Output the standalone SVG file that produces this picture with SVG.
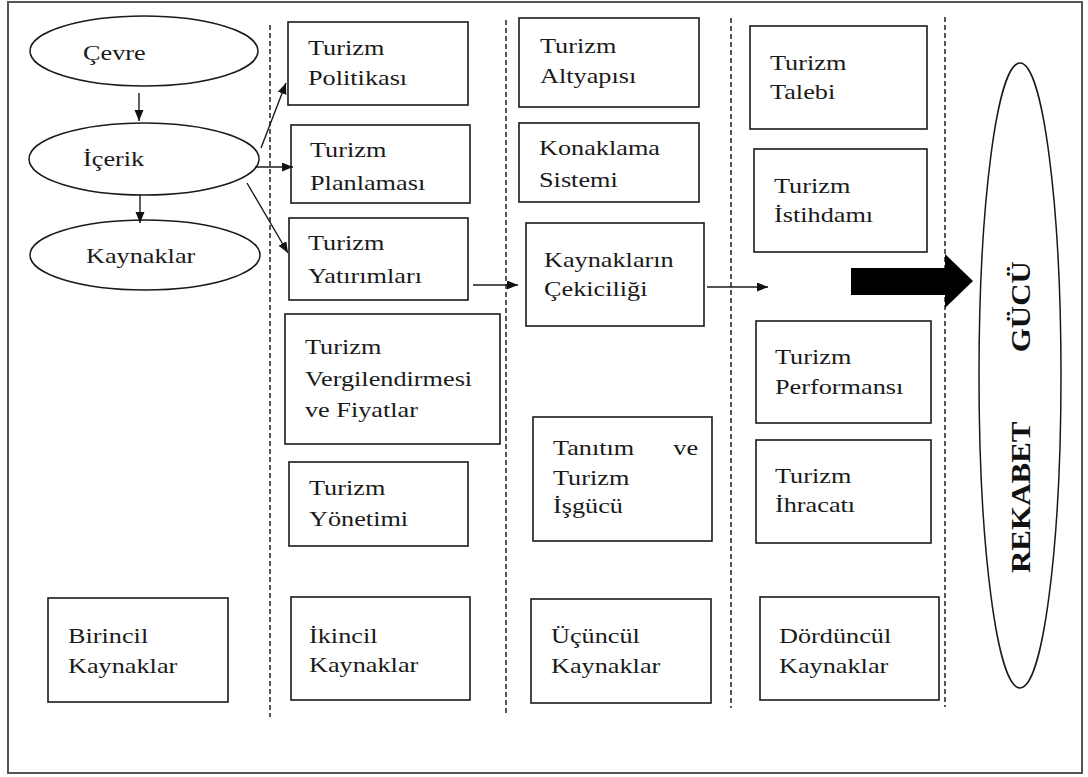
<svg xmlns="http://www.w3.org/2000/svg" width="1088" height="777" viewBox="0 0 1088 777">
<style>
  .bx { fill: #fff; stroke: #1a1a1a; stroke-width: 1.6; }
  .el { fill: #fff; stroke: #1a1a1a; stroke-width: 1.5; }
  .t { font-family: "Liberation Serif", "Times New Roman", serif; font-size: 21px; fill: #1a1a1a; }
  .rt { font-family: "Liberation Serif", "Times New Roman", serif; font-size: 31px; font-weight: bold; fill: #111; }
  .dash { stroke: #222; stroke-width: 1.5; stroke-dasharray: 5 3; fill: none; }
  .cn { stroke: #1a1a1a; stroke-width: 1.4; fill: none; marker-end: url(#ah); }
</style>
<defs>
  <marker id="ah" markerUnits="userSpaceOnUse" markerWidth="12" markerHeight="10" refX="11" refY="4.5" orient="auto">
    <path d="M0,0 L11,4.5 L0,9 z" fill="#111"/>
  </marker>
</defs>
<rect x="0" y="0" width="1088" height="777" fill="#fff"/>
<rect x="8" y="2" width="1074" height="771" fill="none" stroke="#555" stroke-width="2"/>

<g id="dividers">
  <line class="dash" x1="270" y1="25" x2="270" y2="717"/>
  <line class="dash" x1="506" y1="20" x2="506" y2="715"/>
  <line class="dash" x1="731" y1="18" x2="731" y2="708"/>
  <line class="dash" x1="945" y1="17" x2="945" y2="707"/>
</g>

<g id="cevre"><ellipse class="el" cx="144" cy="51" rx="114" ry="35"/>
  <text class="t" transform="translate(83,60) scale(1.25,1)">Çevre</text></g>
<g id="icerik"><ellipse class="el" cx="144" cy="159" rx="115" ry="36"/>
  <text class="t" transform="translate(83,166) scale(1.25,1)">İçerik</text></g>
<g id="kaynaklar"><ellipse class="el" cx="145" cy="255" rx="115" ry="35"/>
  <text class="t" transform="translate(86,263) scale(1.25,1)">Kaynaklar</text></g>

<g id="birincil"><rect class="bx" x="48" y="598" width="180" height="104"/>
  <text class="t" transform="translate(68,643) scale(1.25,1)"><tspan x="0" y="0">Birincil</tspan><tspan x="0" y="30">Kaynaklar</tspan></text></g>

<g id="politikasi"><rect class="bx" x="288" y="22" width="180" height="83"/>
  <text class="t" transform="translate(308,55) scale(1.25,1)"><tspan x="0" y="0">Turizm</tspan><tspan x="0" y="30">Politikası</tspan></text></g>
<g id="planlamasi"><rect class="bx" x="291" y="125" width="179" height="78"/>
  <text class="t" transform="translate(310,157) scale(1.25,1)"><tspan x="0" y="0">Turizm</tspan><tspan x="0" y="33">Planlaması</tspan></text></g>
<g id="yatirimlari"><rect class="bx" x="289" y="218" width="179" height="82"/>
  <text class="t" transform="translate(308,250) scale(1.25,1)"><tspan x="0" y="0">Turizm</tspan><tspan x="0" y="33">Yatırımları</tspan></text></g>
<g id="vergi"><rect class="bx" x="285" y="314" width="215" height="130"/>
  <text class="t" transform="translate(305,354) scale(1.25,1)"><tspan x="0" y="0">Turizm</tspan><tspan x="0" y="32">Vergilendirmesi</tspan><tspan x="0" y="63">ve Fiyatlar</tspan></text></g>
<g id="yonetimi"><rect class="bx" x="289" y="462" width="179" height="84"/>
  <text class="t" transform="translate(309,495) scale(1.25,1)"><tspan x="0" y="0">Turizm</tspan><tspan x="0" y="31">Yönetimi</tspan></text></g>
<g id="ikincil"><rect class="bx" x="291" y="597" width="179" height="103"/>
  <text class="t" transform="translate(309,643) scale(1.25,1)"><tspan x="0" y="0">İkincil</tspan><tspan x="0" y="29">Kaynaklar</tspan></text></g>

<g id="altyapisi"><rect class="bx" x="519" y="18" width="180" height="89"/>
  <text class="t" transform="translate(540,53) scale(1.25,1)"><tspan x="0" y="0">Turizm</tspan><tspan x="0" y="30">Altyapısı</tspan></text></g>
<g id="konaklama"><rect class="bx" x="519" y="123" width="180" height="79"/>
  <text class="t" transform="translate(539,155) scale(1.25,1)"><tspan x="0" y="0">Konaklama</tspan><tspan x="0" y="32">Sistemi</tspan></text></g>
<g id="cekicilik"><rect class="bx" x="526" y="223" width="178" height="103"/>
  <text class="t" transform="translate(544,267) scale(1.25,1)"><tspan x="0" y="0">Kaynakların</tspan><tspan x="0" y="29">Çekiciliği</tspan></text></g>
<g id="tanitim"><rect class="bx" x="533" y="417" width="179" height="124"/>
  <text class="t" transform="translate(553,455) scale(1.25,1)"><tspan x="0" y="0">Tanıtım</tspan><tspan x="91" y="0"> ve</tspan><tspan x="0" y="30">Turizm</tspan><tspan x="0" y="58">İşgücü</tspan></text></g>
<g id="ucuncul"><rect class="bx" x="531" y="599" width="180" height="104"/>
  <text class="t" transform="translate(551,643) scale(1.25,1)"><tspan x="0" y="0">Üçüncül</tspan><tspan x="0" y="30">Kaynaklar</tspan></text></g>

<g id="talebi"><rect class="bx" x="750" y="26" width="177" height="103"/>
  <text class="t" transform="translate(770,70) scale(1.25,1)"><tspan x="0" y="0">Turizm</tspan><tspan x="0" y="29">Talebi</tspan></text></g>
<g id="istihdami"><rect class="bx" x="754" y="149" width="173" height="103"/>
  <text class="t" transform="translate(774,193) scale(1.25,1)"><tspan x="0" y="0">Turizm</tspan><tspan x="0" y="29">İstihdamı</tspan></text></g>
<g id="performansi"><rect class="bx" x="756" y="321" width="175" height="102"/>
  <text class="t" transform="translate(775,364) scale(1.25,1)"><tspan x="0" y="0">Turizm</tspan><tspan x="0" y="30">Performansı</tspan></text></g>
<g id="ihracati"><rect class="bx" x="756" y="440" width="175" height="103"/>
  <text class="t" transform="translate(775,483) scale(1.25,1)"><tspan x="0" y="0">Turizm</tspan><tspan x="0" y="29">İhracatı</tspan></text></g>
<g id="dorduncul"><rect class="bx" x="760" y="597" width="179" height="103"/>
  <text class="t" transform="translate(779,643) scale(1.25,1)"><tspan x="0" y="0">Dördüncül</tspan><tspan x="0" y="30">Kaynaklar</tspan></text></g>

<g id="rekabet"><ellipse class="el" cx="1020" cy="375.5" rx="41" ry="312.5"/>
  <text class="rt" transform="translate(1030,573) rotate(-90) scale(1,0.85)"><tspan x="0" y="0">REKABET</tspan><tspan x="213" y="0"> GÜCÜ</tspan></text></g>

<g id="connectors">
  <line class="cn" x1="139" y1="93" x2="139" y2="121"/>
  <line class="cn" x1="140" y1="195" x2="140" y2="223"/>
  <line class="cn" x1="261" y1="148" x2="286" y2="83"/>
  <line class="cn" x1="255" y1="167" x2="293" y2="167"/>
  <line class="cn" x1="247" y1="183" x2="288" y2="253"/>
  <line class="cn" x1="473" y1="285" x2="518" y2="285"/>
  <line class="cn" x1="707" y1="287" x2="768" y2="287"/>
  <polygon points="851,268 945,268 945,254 973,281 945,308 945,295 851,295" fill="#000"/>
</g>
</svg>
